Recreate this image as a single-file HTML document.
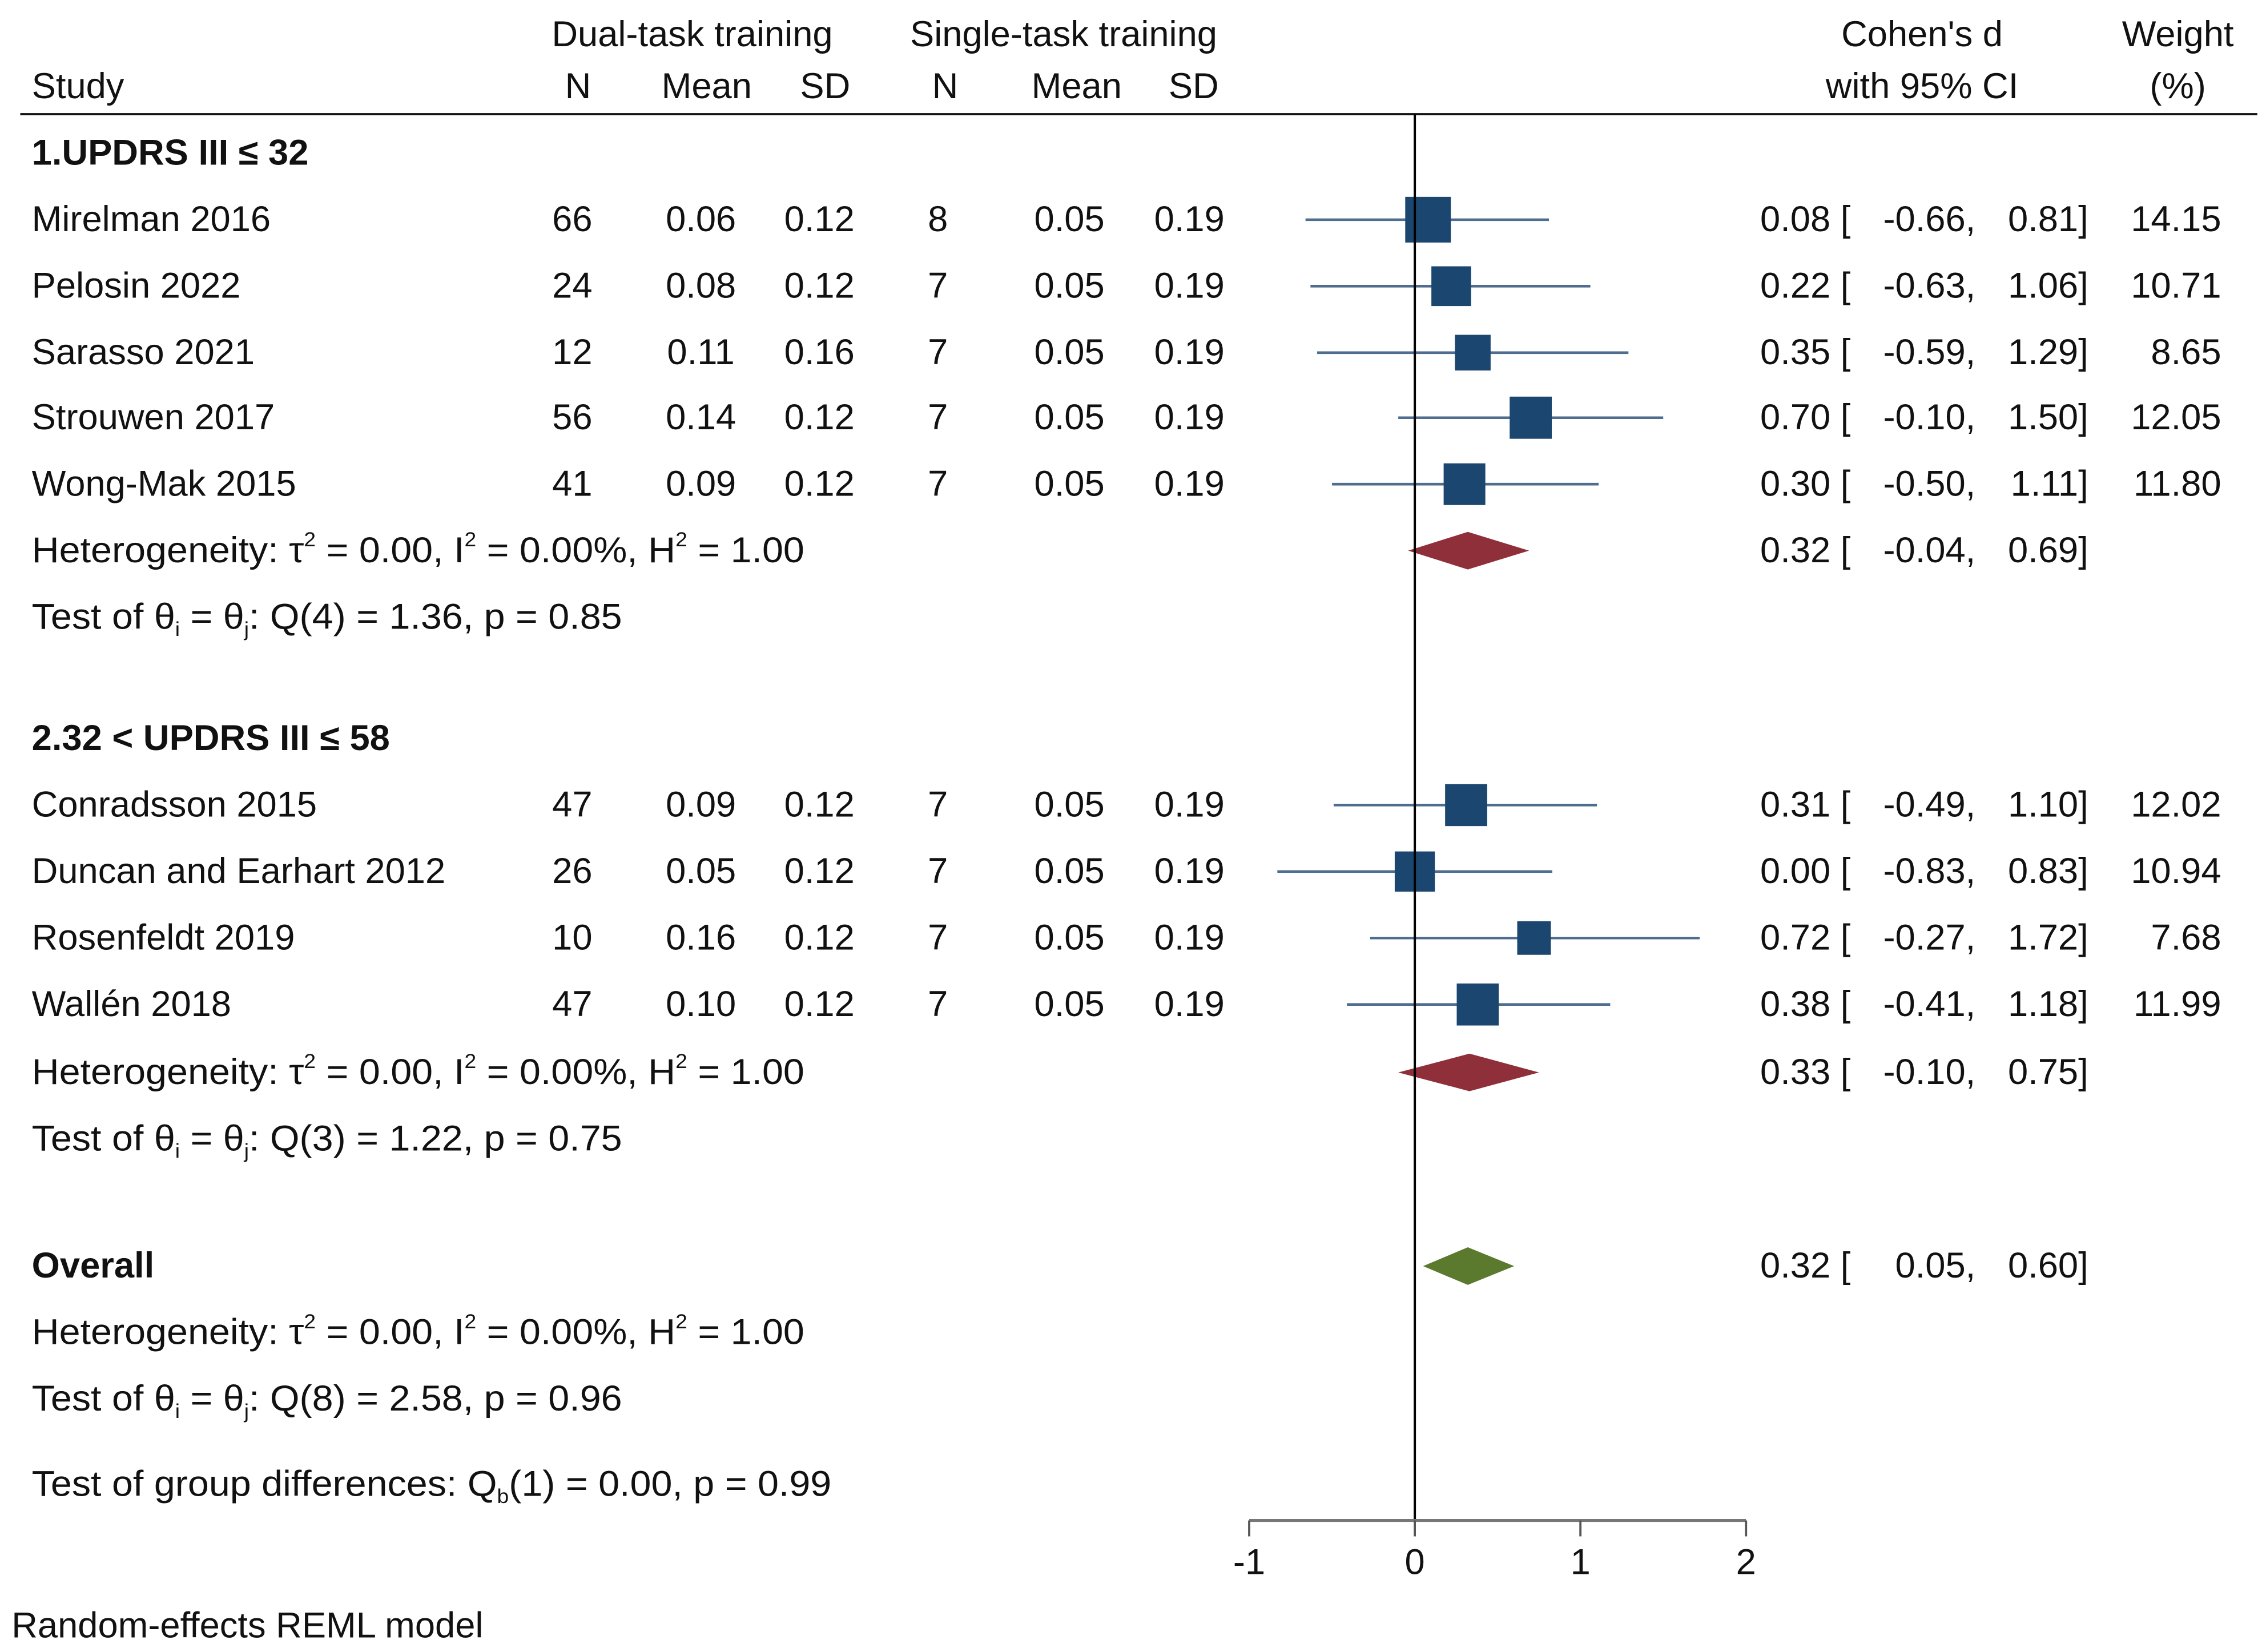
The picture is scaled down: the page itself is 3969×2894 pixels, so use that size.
<!DOCTYPE html>
<html><head><meta charset="utf-8"><style>
html,body{margin:0;padding:0;background:#fff;}
svg{display:block;}
text{font-family:"Liberation Sans",Arial,sans-serif;font-size:25px;fill:#111;}
.b{font-weight:bold;}
</style></head><body>
<svg id="chart" width="3969" height="2894" viewBox="0 0 1568 1143" preserveAspectRatio="none" xmlns="http://www.w3.org/2000/svg">
<g>
<text x="479" y="32" text-anchor="middle">Dual-task training</text>
<text x="736" y="32" text-anchor="middle">Single-task training</text>
<text x="1330" y="32" text-anchor="middle">Cohen's d</text>
<text x="1507" y="32" text-anchor="middle">Weight</text>
<text x="22" y="68">Study</text>
<text x="400" y="68" text-anchor="middle">N</text>
<text x="489" y="68" text-anchor="middle">Mean</text>
<text x="571" y="68" text-anchor="middle">SD</text>
<text x="654" y="68" text-anchor="middle">N</text>
<text x="745" y="68" text-anchor="middle">Mean</text>
<text x="826" y="68" text-anchor="middle">SD</text>
<text x="1330" y="68" text-anchor="middle">with 95% CI</text>
<text x="1507" y="68" text-anchor="middle">(%)</text>
<line x1="14" y1="79" x2="1562" y2="79" stroke="#111" stroke-width="1.5"/>
</g>
<g id="rows"></g>
<g id="axis"></g>
<text x="8" y="1133">Random-effects REML model</text>
</svg>
<script>
const studies = ["Mirelman 2016","Pelosin 2022","Sarasso 2021","Strouwen 2017","Wong-Mak 2015","Conradsson 2015","Duncan and Earhart 2012","Rosenfeldt 2019","Wallén 2018"];
const rowY = [152,198,244,289,335,557,603,649,695];
const dualN = ["66","24","12","56","41","47","26","10","47"];
const dualMean = ["0.06","0.08","0.11","0.14","0.09","0.09","0.05","0.16","0.10"];
const dualSD = ["0.12","0.12","0.16","0.12","0.12","0.12","0.12","0.12","0.12"];
const singleN = ["8","7","7","7","7","7","7","7","7"];
const singleMean = ["0.05","0.05","0.05","0.05","0.05","0.05","0.05","0.05","0.05"];
const singleSD = ["0.19","0.19","0.19","0.19","0.19","0.19","0.19","0.19","0.19"];
const effect = [0.08,0.22,0.35,0.70,0.30,0.31,0.00,0.72,0.38];
const lower = [-0.66,-0.63,-0.59,-0.10,-0.50,-0.49,-0.83,-0.27,-0.41];
const upper = [0.81,1.06,1.29,1.50,1.11,1.10,0.83,1.72,1.18];
const weights = [14.15,10.71,8.65,12.05,11.80,12.02,10.94,7.68,11.99];
const pooledNames = ["subgroup-1","subgroup-2","overall"];
const pooledY = [381,742,876];
const pooledEff = [0.32,0.33,0.32];
const pooledLo = [-0.04,-0.10,0.05];
const pooledHi = [0.69,0.75,0.60];
const pooledColor = ["#8e2f3a","#8e2f3a","#5b7a2e"];
const ticks = [-1,0,1,2];

const NS="http://www.w3.org/2000/svg";
const X0=979, UNIT=114.6;
function xs(v){return X0+v*UNIT;}
function f2(v){return v.toFixed(2);}
const rows=document.getElementById('rows');
const axis=document.getElementById('axis');
function mk(tag,attrs,parent,txt){const e=document.createElementNS(NS,tag);for(const k in attrs)e.setAttribute(k,attrs[k]);if(txt!==undefined)e.textContent=txt;parent.appendChild(e);return e;}

const labels=[
 [106,"1.UPDRS III ≤ 32",true,"subgroup-1-title"],
 [511,"2.32 < UPDRS III ≤ 58",true,"subgroup-2-title"],
 [876,"Overall",true,"overall-title"]
];
labels.forEach(l=>{const t=mk('text',{x:22,y:l[0]+8,class:l[2]?'b':''},rows,l[1]);

});

const SX='translate(22,0) scale(1.05,1) translate(-22,0)';
function het(y,name){const t=mk('text',{x:22,y:y+8,transform:SX},rows);


t.innerHTML='Heterogeneity: τ<tspan dy="-11" font-size="14">2</tspan><tspan dy="11"> = 0.00, I</tspan><tspan dy="-11" font-size="14">2</tspan><tspan dy="11"> = 0.00%, H</tspan><tspan dy="-11" font-size="14">2</tspan><tspan dy="11"> = 1.00</tspan>';}
function tst(y,q,val,p,name){const t=mk('text',{x:22,y:y+8,transform:SX},rows);


t.innerHTML='Test of θ<tspan dy="5" font-size="14">i</tspan><tspan dy="-5"> = θ</tspan><tspan dy="5" font-size="14">j</tspan><tspan dy="-5">: Q('+q+') = '+val+', p = '+p+'</tspan>';}
het(381,'subgroup-1-heterogeneity');tst(427,4,'1.36','0.85','subgroup-1-test');
het(742,'subgroup-2-heterogeneity');tst(788,3,'1.22','0.75','subgroup-2-test');
het(922,'overall-heterogeneity');tst(968,8,'2.58','0.96','overall-test');
const gd=mk('text',{x:22,y:1035,transform:SX},rows);


gd.innerHTML='Test of group differences: Q<tspan dy="5" font-size="14">b</tspan><tspan dy="-5">(1) = 0.00, p = 0.99</tspan>';

const ref=mk('line',{x1:X0,y1:79,x2:X0,y2:1052,stroke:'#000','stroke-width':1.6},axis);



studies.forEach((s,i)=>{
 const y=rowY[i], g=mk('g',{},rows);
 
 
 const cols=[[22,s,'start'],[396,dualN[i],'middle'],[485,dualMean[i],'middle'],[567,dualSD[i],'middle'],[649,singleN[i],'middle'],[740,singleMean[i],'middle'],[823,singleSD[i],'middle']];
 cols.forEach(c=>{const t=mk('text',{x:c[0],y:y+8,'text-anchor':c[2]},g,c[1]);
 
 });
 const ln=mk('line',{x1:xs(lower[i]),x2:xs(upper[i]),y1:y,y2:y,stroke:'#4f6e8f','stroke-width':1.8},g);
 
 
 const side=8.4*Math.sqrt(weights[i]);
 const sq=mk('rect',{x:xs(effect[i])-side/2,y:y-side/2,width:side,height:side,fill:'#1b4670'},g);
 
 
 const a=mk('text',{x:1218,y:y+8},g,f2(effect[i])+' [');
 
 
 const b=mk('text',{x:1367,y:y+8,'text-anchor':'end'},g,f2(lower[i])+',');
 
 
 const c=mk('text',{x:1445,y:y+8,'text-anchor':'end'},g,f2(upper[i])+']');
 
 
 const w=mk('text',{x:1537,y:y+8,'text-anchor':'end'},g,f2(weights[i]));
 
 
});

pooledY.forEach((y,i)=>{
 const g=mk('g',{},rows);
 
 
 const h=13;
 const d=mk('polygon',{points:[xs(pooledLo[i])+','+y,xs(pooledEff[i])+','+(y-h),xs(pooledHi[i])+','+y,xs(pooledEff[i])+','+(y+h)].join(' '),fill:pooledColor[i]},g);
 
 
 const a=mk('text',{x:1218,y:y+8},g,f2(pooledEff[i])+' [');
 
 
 const b=mk('text',{x:1367,y:y+8,'text-anchor':'end'},g,f2(pooledLo[i])+',');
 
 
 const c=mk('text',{x:1445,y:y+8,'text-anchor':'end'},g,f2(pooledHi[i])+']');
 
 
});

const al=mk('line',{x1:xs(ticks[0]),x2:xs(ticks[ticks.length-1]),y1:1052,y2:1052,stroke:'#777','stroke-width':2},axis);


ticks.forEach(t=>{
 const tk=mk('line',{x1:xs(t),x2:xs(t),y1:1052,y2:1063,stroke:'#555','stroke-width':1.5},axis);
 
 
 const lb=mk('text',{x:xs(t),y:1089,'text-anchor':'middle'},axis,String(t));
 
 
});
</script>
</body></html>
